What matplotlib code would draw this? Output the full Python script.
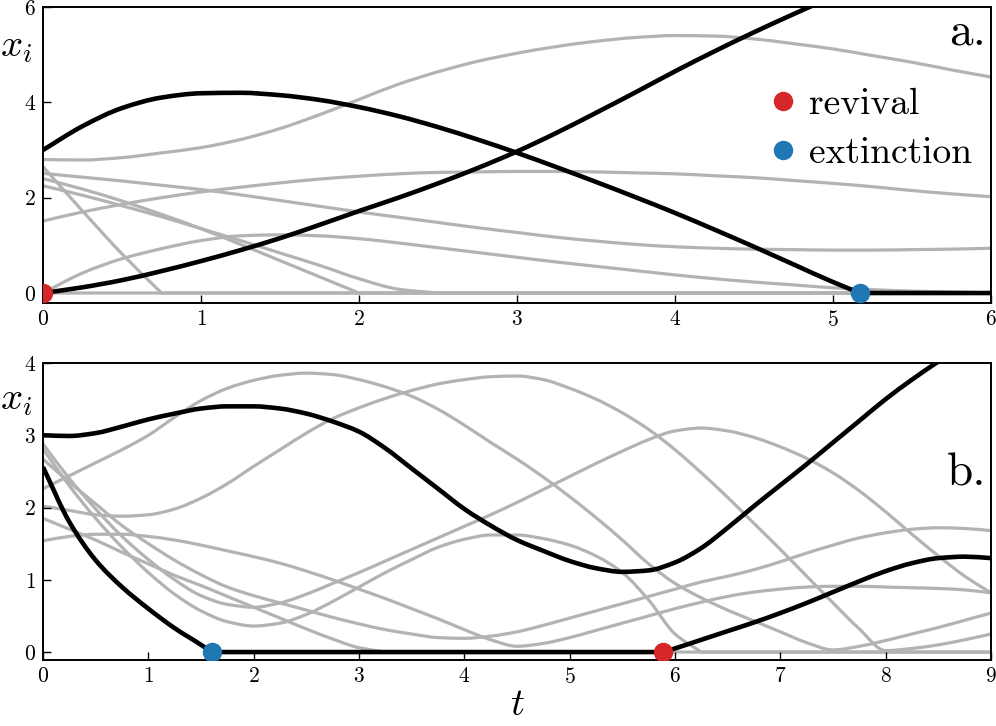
import numpy as np
import matplotlib
matplotlib.use("Agg")
import matplotlib.pyplot as plt
from matplotlib.path import Path
from matplotlib.patches import PathPatch

plt.rcParams["font.family"] = "serif"
plt.rcParams["font.serif"] = ["cmr10"]
plt.rcParams["mathtext.fontset"] = "cm"
plt.rcParams["axes.formatter.use_mathtext"] = True

# ----------------------------
# panel a (t = 0 ... 6)
# ----------------------------
t_a = np.arange(0, 6.01, 0.25)

gray_a = [
    # slow hump, top
    [2.80, 2.79, 2.84, 2.94, 3.05, 3.22, 3.45, 3.74, 4.06, 4.38, 4.64, 4.86, 5.03,
     5.17, 5.28, 5.36, 5.40, 5.39, 5.33, 5.23, 5.12, 4.98, 4.84, 4.68, 4.53],
    # steep decay
    [2.65, 1.72, 0.82, 0, 0, 0, 0, 0, 0, 0, 0, 0, 0, 0, 0, 0, 0, 0, 0, 0, 0, 0, 0, 0, 0],
    # slow decline to ~0.9
    [2.51, 2.43, 2.35, 2.26, 2.17, 2.06, 1.94, 1.82, 1.70, 1.59, 1.48, 1.37, 1.27,
     1.17, 1.09, 1.02, 0.97, 0.94, 0.92, 0.91, 0.90, 0.90, 0.91, 0.92, 0.94],
    # rising to ~2.5
    [1.51, 1.70, 1.86, 2.00, 2.12, 2.22, 2.31, 2.39, 2.45, 2.50, 2.53, 2.54, 2.55,
     2.55, 2.54, 2.52, 2.50, 2.46, 2.42, 2.36, 2.30, 2.23, 2.15, 2.08, 2.02],
    # two decays reaching zero near t = 2
    [2.40, 2.18, 1.93, 1.65, 1.35, 1.02, 0.68, 0.34, 0, 0, 0, 0, 0, 0, 0, 0, 0, 0, 0, 0, 0, 0, 0, 0, 0],
    [2.25, 2.05, 1.83, 1.60, 1.35, 1.10, 0.84, 0.58, 0.30, 0.08, 0, 0, 0, 0, 0, 0, 0, 0, 0, 0, 0, 0, 0, 0, 0],
    # small hump from zero
    [0.00, 0.42, 0.72, 0.93, 1.10, 1.20, 1.22, 1.20, 1.14, 1.05, 0.95, 0.85, 0.75,
     0.65, 0.56, 0.47, 0.38, 0.30, 0.23, 0.17, 0.11, 0.07, 0.04, 0.02, 0.00],
    # extinct all along
    [0] * 25,
]

t_a_ext = [0, 0.25, 0.5, 0.75, 1.0, 1.25, 1.5, 1.75, 2.0, 2.25, 2.5, 2.75, 3.0,
           3.25, 3.5, 3.75, 4.0, 4.25, 4.5, 4.75, 5.0, 5.17, 6.0]
x_a_ext = [3.00, 3.50, 3.88, 4.10, 4.19, 4.20, 4.15, 4.05, 3.90, 3.71, 3.48, 3.22, 2.94,
           2.64, 2.33, 2.01, 1.68, 1.33, 0.97, 0.60, 0.23, 0.0, 0.0]
t_a_rev = [0, 0.25, 0.5, 0.75, 1.0, 1.25, 1.5, 1.75, 2.0, 2.25, 2.5, 2.75, 3.0,
           3.25, 3.5, 3.75, 4.0, 4.25, 4.5, 4.75, 5.0]
x_a_rev = [0.0, 0.12, 0.27, 0.46, 0.67, 0.90, 1.15, 1.43, 1.72, 2.00, 2.30, 2.62, 2.97,
           3.36, 3.78, 4.21, 4.65, 5.07, 5.47, 5.85, 6.22]
revival_a = (0.0, 0.0)
extinction_a = (5.17, 0.0)

# ----------------------------
# panel b (t = 0 ... 9)
# ----------------------------
t_b = np.arange(0, 9.01, 0.25)

gray_b = [
    # hump peaking near t = 2.5
    [2.26, 2.44, 2.62, 2.80, 3.00, 3.25, 3.48, 3.65, 3.76, 3.83, 3.86, 3.84, 3.77,
     3.67, 3.54, 3.36, 3.14, 2.90, 2.67, 2.42, 2.15, 1.86, 1.55, 1.22, 0.95, 0.75,
     0.58, 0.43, 0.28, 0.13, 0.03, 0.08, 0.16, 0.25, 0.34, 0.44, 0.54],
    # hump peaking near t = 4.3
    [2.02, 1.96, 1.90, 1.88, 1.90, 1.98, 2.13, 2.33, 2.57, 2.80, 3.03, 3.23, 3.38,
     3.51, 3.62, 3.71, 3.77, 3.81, 3.82, 3.77, 3.65, 3.50, 3.31, 3.08, 2.80, 2.48,
     2.14, 1.78, 1.42, 1.05, 0.68, 0.32, 0.02, 0.05, 0.10, 0.17, 0.25],
    # dip then hump peaking near t = 6.1
    [2.88, 2.40, 1.98, 1.60, 1.28, 1.00, 0.78, 0.66, 0.62, 0.68, 0.80, 0.95, 1.10,
     1.26, 1.42, 1.58, 1.74, 1.90, 2.07, 2.25, 2.43, 2.61, 2.78, 2.94, 3.06, 3.10,
     3.06, 2.97, 2.84, 2.68, 2.48, 2.23, 1.94, 1.63, 1.33, 1.05, 0.82],
    # long decline then slow rise to ~1.7
    [2.67, 2.35, 2.05, 1.75, 1.50, 1.27, 1.07, 0.90, 0.78, 0.68, 0.58, 0.48, 0.39,
     0.31, 0.25, 0.20, 0.19, 0.22, 0.28, 0.37, 0.47, 0.57, 0.67, 0.77, 0.87, 0.97,
     1.05, 1.14, 1.25, 1.37, 1.48, 1.58, 1.65, 1.70, 1.72, 1.71, 1.68],
    # dip then hump near t = 4.3, extinct after t = 6.2
    [2.81, 2.30, 1.85, 1.45, 1.10, 0.80, 0.57, 0.42, 0.36, 0.40, 0.52, 0.70, 0.90,
     1.10, 1.28, 1.45, 1.56, 1.62, 1.62, 1.57, 1.48, 1.33, 1.10, 0.72, 0.25, 0.0,
     0, 0, 0, 0, 0, 0, 0, 0, 0, 0, 0],
    # flat start, decline to ~0 at 4.5, rise to ~0.9
    [1.54, 1.60, 1.63, 1.63, 1.60, 1.55, 1.48, 1.40, 1.32, 1.23, 1.12, 1.00, 0.87,
     0.74, 0.60, 0.46, 0.31, 0.17, 0.08, 0.12, 0.20, 0.30, 0.40, 0.50, 0.60, 0.69,
     0.77, 0.83, 0.87, 0.90, 0.91, 0.91, 0.90, 0.89, 0.88, 0.86, 0.82],
    # decline to zero near t = 3.2
    [1.85, 1.70, 1.55, 1.38, 1.22, 1.06, 0.92, 0.77, 0.62, 0.47, 0.32, 0.18, 0.06,
     0, 0, 0, 0, 0, 0, 0, 0, 0, 0, 0, 0, 0, 0, 0, 0, 0, 0, 0, 0, 0, 0, 0, 0],
]

t_b_top = [0, 0.25, 0.5, 0.75, 1.0, 1.25, 1.5, 1.75, 2.0, 2.25, 2.5, 2.75, 3.0,
           3.25, 3.5, 3.75, 4.0, 4.25, 4.5, 4.75, 5.0, 5.25, 5.5, 5.75, 6.0, 6.25,
           6.5, 6.75, 7.0, 7.25, 7.5, 7.75, 8.0, 8.25, 8.5, 8.75]
x_b_top = [3.00, 2.99, 3.03, 3.12, 3.22, 3.30, 3.37, 3.40, 3.40, 3.37, 3.30, 3.19, 3.05,
           2.82, 2.54, 2.26, 1.98, 1.75, 1.55, 1.40, 1.26, 1.16, 1.11, 1.13, 1.24, 1.44,
           1.72, 2.02, 2.31, 2.60, 2.90, 3.20, 3.50, 3.77, 4.02, 4.25]
t_b_low = [0, 0.25, 0.5, 0.75, 1.0, 1.25, 1.5, 1.6, 5.89, 6.0, 6.25, 6.5, 6.75,
           7.0, 7.25, 7.5, 7.75, 8.0, 8.25, 8.5, 8.75, 9.0]
x_b_low = [2.56, 1.80, 1.27, 0.90, 0.60, 0.33, 0.10, 0.0, 0.0, 0.05, 0.17, 0.29, 0.41,
           0.54, 0.68, 0.83, 0.98, 1.12, 1.23, 1.30, 1.32, 1.30]
extinction_b = (1.6, 0.0)
revival_b = (5.89, 0.0)

RED = "#d62728"
BLUE = "#1f77b4"
GRAY = "#b3b3b3"


def smooth_line(ax, t, y, color, lw, zorder):
    """Draw the sampled trajectory as a smooth cubic Bezier path
    (shape-preserving tangents, corners kept where a curve lands on zero)."""
    t = np.asarray(t, float)
    y = np.asarray(y, float)
    h = np.diff(t)
    d = np.diff(y) / h
    n = len(t)
    m_in = np.zeros(n)
    m_out = np.zeros(n)
    m_in[0] = m_out[0] = d[0]
    m_in[-1] = m_out[-1] = d[-1]
    for k in range(1, n - 1):
        a, b = d[k - 1], d[k]
        if y[k] == 0 and (a == 0) != (b == 0):
            m_in[k], m_out[k] = a, b          # landing on / leaving zero
        elif a * b <= 0:
            m_in[k] = m_out[k] = 0.0
        else:
            w1 = 2 * h[k] + h[k - 1]
            w2 = h[k] + 2 * h[k - 1]
            m_in[k] = m_out[k] = (w1 + w2) / (w1 / a + w2 / b)
    verts = [(t[0], y[0])]
    codes = [Path.MOVETO]
    for k in range(n - 1):
        verts += [(t[k] + h[k] / 3, y[k] + m_out[k] * h[k] / 3),
                  (t[k + 1] - h[k] / 3, y[k + 1] - m_in[k + 1] * h[k] / 3),
                  (t[k + 1], y[k + 1])]
        codes += [Path.CURVE4] * 3
    ax.add_patch(PathPatch(Path(verts, codes), facecolor="none", edgecolor=color,
                           lw=lw, zorder=zorder, capstyle="butt"))


fig = plt.figure(figsize=(9.96, 7.26), dpi=100)
ax1 = fig.add_axes([0.0432, 0.5826, 0.9518, 0.4078])
ax2 = fig.add_axes([0.0432, 0.0909, 0.9518, 0.4091])


def style(ax, xmax, ymin, ymax):
    ax.set_xlim(0, xmax)
    ax.set_ylim(ymin, ymax)
    ax.set_xticks(range(0, xmax + 1))
    ax.set_yticks(range(0, int(ymax) + 1, 2 if ymax > 4 else 1))
    ax.tick_params(direction="in", length=6, width=1.0, labelsize=15.5, pad=5)
    for s in ax.spines.values():
        s.set_linewidth(1.4)


for y in gray_a:
    smooth_line(ax1, t_a, y, GRAY, 2.3, 1)
smooth_line(ax1, t_a_ext, x_a_ext, "k", 3.3, 2)
smooth_line(ax1, t_a_rev, x_a_rev, "k", 3.3, 2)
ax1.plot(*revival_a, "o", color=RED, ms=13, zorder=4)
ax1.plot(*extinction_a, "o", color=BLUE, ms=13, zorder=4)
ax1.plot([], [], "o", color=RED, ms=13, label="revival")
ax1.plot([], [], "o", color=BLUE, ms=13, label="extinction")
ax1.legend(loc="upper right", bbox_to_anchor=(0.98, 0.728), frameon=False,
           fontsize=27, handlelength=0.6, handletextpad=0.4, labelspacing=0.42,
           borderpad=0, borderaxespad=0)
style(ax1, 6, -0.21, 6)
ax1.text(-0.028, 0.865, r"$x_i$", transform=ax1.transAxes, fontsize=28,
         ha="center", va="center")
ax1.text(0.995, 0.872, "a.", transform=ax1.transAxes, fontsize=34,
         ha="right", va="baseline")

for y in gray_b:
    smooth_line(ax2, t_b, y, GRAY, 2.3, 1)
smooth_line(ax2, t_b_top, x_b_top, "k", 3.3, 2)
smooth_line(ax2, t_b_low, x_b_low, "k", 3.3, 2)
ax2.plot(*extinction_b, "o", color=BLUE, ms=13, zorder=4)
ax2.plot(*revival_b, "o", color=RED, ms=13, zorder=4)
style(ax2, 9, -0.11, 4)
ax2.text(-0.028, 0.875, r"$x_i$", transform=ax2.transAxes, fontsize=28,
         ha="center", va="center")
ax2.text(0.995, 0.589, "b.", transform=ax2.transAxes, fontsize=34,
         ha="right", va="baseline")
ax2.set_xlabel(r"$t$", fontsize=28, labelpad=0)

fig.savefig("out.png", dpi=100)
